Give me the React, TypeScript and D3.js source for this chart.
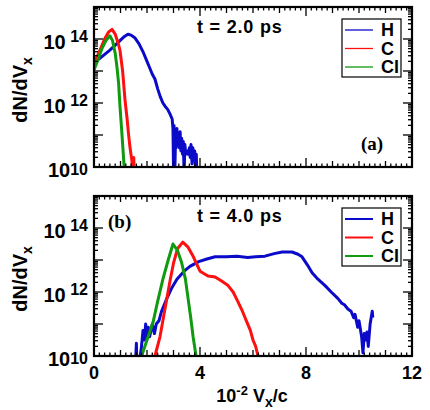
import React from 'react';
import * as d3 from 'd3';

// velocity in units of 1e-2 c, log10 of dN/dVx
const hA = [[0,13.28],[0.23,13.4],[0.6,13.65],[0.98,13.95],[1.15,14.08],[1.28,14.15],[1.4,14.12],[1.55,14.03],[1.7,13.85],[1.85,13.6],[2.0,13.3],[2.1,13.1],[2.2,12.9],[2.3,12.75],[2.4,12.45],[2.5,12.2],[2.6,12.0],[2.68,11.9],[2.78,11.8],[2.87,11.65],[2.95,11.5],[2.98,11.2],[3.0,10.0],[3.02,11.3],[3.05,9.8],[3.08,11.1],[3.1,10.6],[3.13,11.2],[3.16,10.7],[3.19,11.0],[3.22,10.6],[3.25,11.1],[3.28,10.5],[3.31,10.9],[3.34,10.4],[3.37,10.8],[3.4,9.8],[3.43,10.7],[3.46,10.4],[3.5,10.5],[3.55,10.4],[3.6,10.6],[3.63,10.3],[3.66,10.7],[3.7,10.1],[3.73,10.6],[3.76,10.2],[3.8,10.5],[3.83,10.0],[3.86,10.4],[3.89,9.5]];
const cA = [[0,13.25],[0.2,13.6],[0.4,14.0],[0.55,14.22],[0.68,14.3],[0.8,14.15],[0.9,13.9],[0.98,13.65],[1.08,13.0],[1.17,12.1],[1.25,11.5],[1.3,11.05],[1.36,10.6],[1.43,10.2],[1.46,9.8],[1.5,10.3],[1.53,9.5]];
const clA = [[0,13.03],[0.15,13.35],[0.3,13.7],[0.45,13.95],[0.6,14.1],[0.7,13.95],[0.8,13.55],[0.87,13.1],[0.93,12.6],[0.98,11.9],[1.04,11.2],[1.09,10.6],[1.13,10.1],[1.16,9.5]];

const hB = [[1.55,9.5],[1.6,10.4],[1.62,9.5],[1.7,9.8],[1.78,10.2],[1.85,10.8],[1.9,10.5],[1.95,11.0],[2.0,10.6],[2.05,10.9],[2.1,10.6],[2.2,11.0],[2.28,10.7],[2.35,11.0],[2.45,11.1],[2.55,11.4],[2.75,11.8],[2.95,12.15],[3.13,12.4],[3.4,12.65],[3.62,12.8],[3.95,12.95],[4.26,13.03],[4.57,13.1],[5.0,13.1],[5.4,13.12],[5.8,13.08],[6.1,13.1],[6.45,13.12],[6.8,13.2],[7.1,13.25],[7.47,13.25],[7.7,13.18],[7.85,13.1],[8.05,12.85],[8.23,12.6],[8.45,12.4],[8.72,12.2],[8.95,12.0],[9.2,11.8],[9.35,11.65],[9.45,11.6],[9.58,11.47],[9.7,11.4],[9.8,11.2],[9.85,11.3],[9.95,10.9],[10.0,11.1],[10.1,10.6],[10.15,10.1],[10.2,10.7],[10.25,10.5],[10.3,10.75],[10.35,10.3],[10.42,11.0],[10.5,11.4],[10.52,11.2]];
const cB = [[2.3,10.0],[2.49,10.6],[2.62,11.2],[2.75,11.8],[2.88,12.4],[3.0,12.9],[3.15,13.35],[3.35,13.56],[3.55,13.4],[3.75,13.1],[4.0,12.65],[4.3,12.5],[4.57,12.47],[4.8,12.35],[5.06,12.2],[5.25,12.0],[5.43,11.7],[5.6,11.4],[5.77,11.06],[5.9,10.8],[6.0,10.5],[6.1,10.3],[6.19,10.0],[6.22,9.5]];
const clB = [[1.81,10.03],[2.0,10.5],[2.23,11.06],[2.4,11.7],[2.6,12.4],[2.8,13.0],[2.98,13.5],[3.15,13.3],[3.3,12.94],[3.45,12.4],[3.55,11.8],[3.65,11.2],[3.74,10.6],[3.85,10.0],[3.88,9.5]];

const speciesNames = ['H', 'C', 'Cl'];
const speciesColors = ['#0a0ac8', '#ff1010', '#109a10'];
const panels = [
  { top: 7, time: 't = 2.0 ps', tag: '(a)', series: [hA, cA, clA] },
  { top: 196, time: 't = 4.0 ps', tag: '(b)', series: [hB, cB, clB] },
];
const xTicks = [0, 4, 8, 12];
const yLabelExps = [14, 12, 10];

const X0 = 94, X1 = 412, PH = 160;
const font = 'Liberation Sans, Arial, sans-serif';

const x = d3.scaleLinear().domain([0, 12]).range([X0, X1]);

function Panel({ p, i }: { p: typeof panels[0]; i: number }) {
  const y = d3.scaleLog().domain([1e10, 1e15]).range([p.top + PH, p.top]);
  const line = d3.line<number[]>().x(d => x(d[0])).y(d => y(Math.pow(10, d[1])));
  const xMinor = d3.range(0, 12.001, 0.2);
  const yMinor: number[] = [];
  for (let e = 10; e < 15; e++) for (let m = 1; m < 10; m++) yMinor.push(m * Math.pow(10, e));
  yMinor.push(1e15);
  const bottom = p.top + PH;
  const lg = { x: 342, y: p.top + 12 };
  return (
    <g>
      <clipPath id={'clip' + i}>
        <rect x={X0} y={p.top} width={X1 - X0} height={PH} />
      </clipPath>
      <g clipPath={`url(#clip${i})`}>
        {p.series.map((s, k) => (
          <path key={k} d={line(s) || ''} fill="none" stroke={speciesColors[k]} strokeWidth={3} strokeLinejoin="round" />
        ))}
      </g>
      {xMinor.map((v, k) => {
        const r = Math.round(v * 5) / 5;
        const len = Math.abs(r % 4) < 1e-6 ? 9 : Math.abs(r - Math.round(r)) < 1e-6 ? 6 : 3.5;
        return (
          <g key={'x' + k} stroke="#000" strokeWidth={1.3}>
            <line x1={x(r)} x2={x(r)} y1={bottom} y2={bottom - len} />
            <line x1={x(r)} x2={x(r)} y1={p.top} y2={p.top + len} />
          </g>
        );
      })}
      {yMinor.map((v, k) => {
        const major = Math.abs(Math.log10(v) - Math.round(Math.log10(v))) < 1e-9;
        const len = major ? 9 : 4;
        return (
          <g key={'y' + k} stroke="#000" strokeWidth={1.3}>
            <line x1={X0} x2={X0 + len} y1={y(v)} y2={y(v)} />
            <line x1={X1} x2={X1 - len} y1={y(v)} y2={y(v)} />
          </g>
        );
      })}
      <rect x={X0} y={p.top} width={X1 - X0} height={PH} fill="none" stroke="#000" strokeWidth={2.2} />
      {yLabelExps.map(e => (
        <text key={e} x={X0 - 6} y={y(Math.pow(10, e)) + 10} textAnchor="end" fontFamily={font} fontWeight="bold" fontSize={20}>
          10<tspan dy={e === 10 ? -2 : -7} fontSize={16}>{(e === 10 ? '' : ' ') + e}</tspan>
        </text>
      ))}
      <text transform={`translate(27,${p.top + 83}) rotate(-90)`} textAnchor="middle" fontFamily={font} fontWeight="bold" fontSize={20}>
        dN/dV<tspan dy={5} fontSize={14}>x</tspan>
      </text>
      <text x={197} y={p.top + 26} fontFamily={font} fontWeight="bold" fontSize={18} letterSpacing={0.8}>{p.time}</text>
      <text x={i === 0 ? 361 : 108} y={i === 0 ? p.top + 143 : p.top + 32} fontFamily="Liberation Serif, Times New Roman, serif" fontWeight="bold" fontSize={19}>{p.tag}</text>
      <rect x={lg.x} y={lg.y} width={59} height={58} fill="#fff" stroke="#000" strokeWidth={1.2} />
      {speciesNames.map((n, k) => (
        <g key={n}>
          <line x1={lg.x + 3} x2={lg.x + 31} y1={lg.y + 11 + k * 18.5} y2={lg.y + 11 + k * 18.5} stroke={speciesColors[k]} strokeWidth={i === 0 ? 1.3 : 2} />
          <text x={lg.x + 39} y={lg.y + 17 + k * 18.5} fontFamily={font} fontWeight="bold" fontSize={18}>{n}</text>
        </g>
      ))}
      {i === 1 && xTicks.map(t => (
        <text key={t} x={x(t)} y={bottom + 23} textAnchor="middle" fontFamily={font} fontWeight="bold" fontSize={18}>{t}</text>
      ))}
    </g>
  );
}

export default function App() {
  return (
    <svg width={430} height={410} style={{ position: 'absolute', left: 0, top: 0, background: '#fff' }}>
      <rect width={430} height={410} fill="#fff" />
      {panels.map((p, i) => <Panel key={i} p={p} i={i} />)}
      <text x={252} y={402} textAnchor="middle" fontFamily={font} fontWeight="bold" fontSize={18}>
        10<tspan dy={-7} fontSize={13}>-2</tspan><tspan dy={7}> V</tspan><tspan dy={5} fontSize={14}>x</tspan><tspan dy={-5}>/c</tspan>
      </text>
    </svg>
  );
}
